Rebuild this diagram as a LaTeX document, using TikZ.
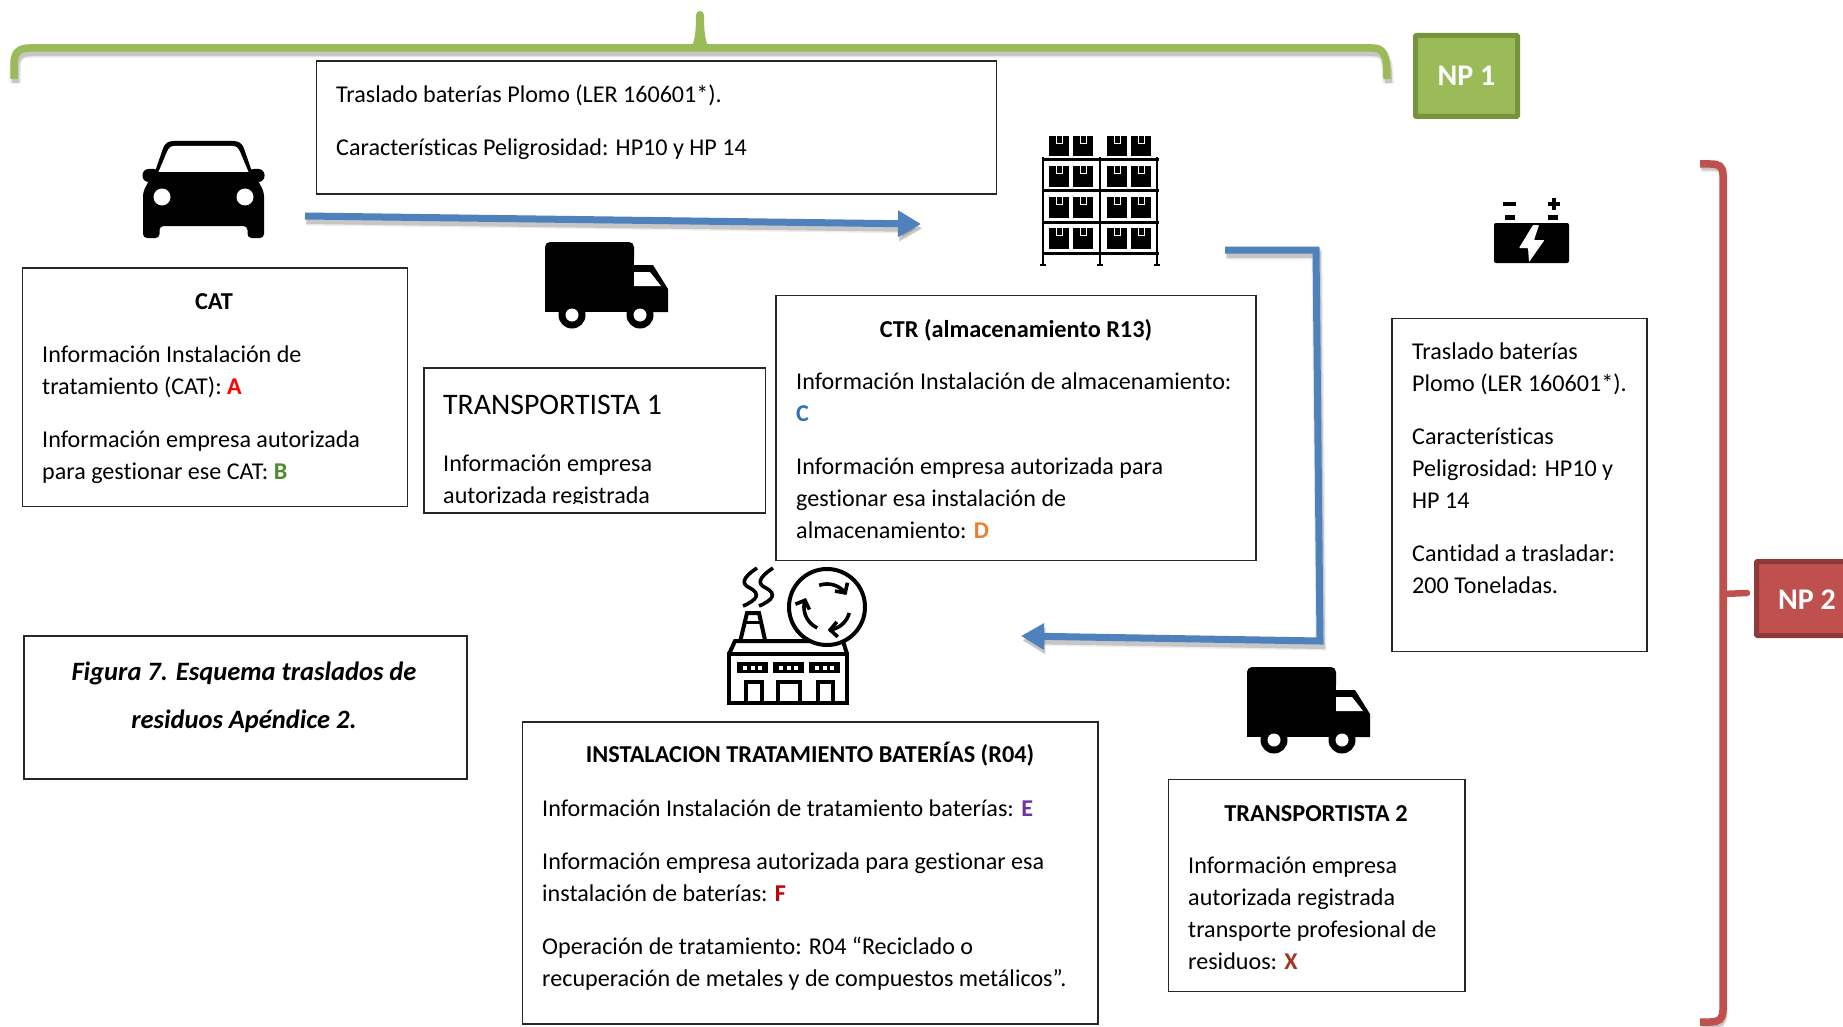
\documentclass[tikz,border=0pt]{standalone}
\usepackage{fontspec}
\setmainfont[Ligatures=NoCommon]{Carlito}
\usetikzlibrary{arrows.meta}
\definecolor{npgreen}{HTML}{9BBB59}
\definecolor{npgreend}{HTML}{77933C}
\definecolor{npred}{HTML}{C0504D}
\definecolor{npredd}{HTML}{8F3A38}
\definecolor{flowblue}{HTML}{4F81BD}
\definecolor{letB}{HTML}{4E8A2E}
\definecolor{letC}{HTML}{2E75B6}
\definecolor{letD}{HTML}{ED7D31}
\definecolor{letE}{HTML}{7030A0}
\definecolor{letF}{HTML}{C00000}
\definecolor{letX}{HTML}{A93226}
\newcommand{\ltr}[2]{\textcolor{#1}{\textbf{#2}}}
\tikzset{
  x=1pt,y=-1pt,
  boxn/.style={draw=black!85,line width=1.2pt,fill=white,rectangle,inner sep=0pt,outer sep=0pt,anchor=north west},
  txt/.style={inner sep=0pt,anchor=north west,align=left,font=\fontsize{24.1}{32}\selectfont,execute at begin node=\strut},
  ttl/.style={inner sep=0pt,anchor=center,font=\fontsize{24.3}{32}\selectfont\bfseries},
  softsh/.style={
    preaction={draw=black,opacity=.07,line width=#1+4pt,transform canvas={shift={(1pt,-4pt)}}},
    preaction={draw=black,opacity=.16,line width=#1,transform canvas={shift={(1.5pt,-4.5pt)}}}},
  bracegreen/.style={draw=npgreen,line width=7.5pt,softsh=7.5pt},
  bracered/.style={draw=npred,line width=7.5pt,softsh=4pt},
  flow/.style={draw=flowblue,line width=7pt,softsh=7pt},
  nptag/.style={rectangle,line width=5pt,rounded corners=1pt,inner sep=0pt,outer sep=0pt,anchor=north west,text=white,font=\fontsize{30}{32}\selectfont\bfseries},
  truckicon/.pic={
    \fill[rounded corners=5pt] (0,70) -- (0,0) -- (89,0) -- (89,23) -- (0,23) -- cycle;
    \fill (0,70) -- (0,8) -- (89,8) -- (89,70) -- cycle;
    \fill (85,23) -- (108,23) -- (123,47) -- (123,70) -- (85,70) -- cycle;
    \fill[white] (89,30) -- (105,30) -- (116,44) -- (89,44) -- cycle;
    \foreach \wx in {27,95}{
      \fill (\wx,73) circle[radius=13.5];
      \fill[white] (\wx,73) circle[radius=6.5];}
  }
}
\begin{document}
\begin{tikzpicture}
\useasboundingbox (0,0) rectangle (1843,1027);
\clip (0,0) rectangle (1843,1027);
\fill[white] (0,0) rectangle (1843,1027);

% --- brackets ---
\coordinate (gl) at (14,79);
\coordinate (gr) at (1387,79);
\draw[bracegreen] (gl) -- (14,65) .. controls (14,53) and (18,48) .. (30,48) -- (1372,48) .. controls (1383,48) and (1387,53) .. (gr);
\fill[npgreen] (692,45) .. controls (695,41) and (696,30) .. (696,15) arc[start angle=180,end angle=360,radius=4] .. controls (704,30) and (705,41) .. (708,45) -- cycle;

\coordinate (rt) at (1700,164);
\coordinate (rb) at (1700,1022);
\draw[bracered] (rt) -- (1710,164) .. controls (1719,164) and (1723,166) .. (1723,175) -- (1723,1010) .. controls (1723,1019) and (1719,1022) .. (1710,1022) -- (rb);
\draw[npred,line width=6.5pt,line cap=round] (1723,594) -- (1747,593);

% --- NP tags ---
\node[nptag,draw=npgreend,fill=npgreen,minimum width=102pt,minimum height=81pt] (np1) at (1415.5,35.5) {NP 1};
\node[nptag,draw=npredd,fill=npred,minimum width=110pt,minimum height=74pt] (np2) at (1756.5,561.5) {};
\node[inner sep=0pt,text=white,font=\fontsize{30}{32}\selectfont\bfseries] (np2t) at (1807,600) {NP 2};

% --- boxes ---
\node[boxn,minimum width=680pt,minimum height=133pt] (top) at (316.5,61) {};
\node[boxn,minimum width=385pt,minimum height=238.5pt] (cat) at (22.5,268) {};
\node[boxn,minimum width=341.5pt,minimum height=145pt] (tr1) at (424,368) {};
\node[boxn,minimum width=480pt,minimum height=265pt] (ctr) at (776,295.5) {};
\node[boxn,minimum width=255pt,minimum height=333pt] (bat) at (1392,318.5) {};
\node[boxn,minimum width=443pt,minimum height=143pt,line width=2pt] (fig) at (23.5,636) {};
\node[boxn,minimum width=575.5pt,minimum height=302pt] (ins) at (522.5,722) {};
\node[boxn,minimum width=296.5pt,minimum height=212pt] (tr2) at (1168.5,779.5) {};

% --- box texts ---
\node[txt] (toptxt) at (336,85) {Traslado baterías Plomo (LER 160601*).\\[21pt]Características Peligrosidad: HP10 y HP 14};

\node[ttl] (catt) at (214,301.5) {CAT};
\node[txt] (cattxt) at (42,346) {Información Instalación de\\tratamiento (CAT): \ltr{red}{A}\\[21pt]Información empresa autorizada\\para gestionar ese CAT: \ltr{letB}{B}};

\node[inner sep=0pt,anchor=west,font=\fontsize{29.8}{36}\selectfont] (tr1t) at (443,405) {TRANSPORTISTA 1};
\begin{scope}
\clip (425,440) rectangle (764,503);
\node[txt] (tr1txt) at (443,455) {Información empresa\\autorizada registrada};
\end{scope}

\node[ttl] (ctrt) at (1016,330) {CTR (almacenamiento R13)};
\node[txt] (ctrtxt) at (796,373) {Información Instalación de almacenamiento:\\\ltr{letC}{C}\\[21pt]Información empresa autorizada para\\gestionar esa instalación de\\almacenamiento: \ltr{letD}{D}};

\node[txt] (battxt) at (1412,343) {Traslado baterías\\Plomo (LER 160601*).\\[21pt]Características\\Peligrosidad: HP10 y\\HP 14\\[21pt]Cantidad a trasladar:\\200 Toneladas.};

\node[inner sep=0pt,align=center,font=\fontsize{26.5}{48}\selectfont\bfseries\itshape] (figt) at (244,697) {Figura 7. Esquema traslados de\\residuos Apéndice 2.};

\node[ttl] (inst) at (810,754) {INSTALACION TRATAMIENTO BATERÍAS (R04)};
\node[txt] (instxt) at (542,800) {Información Instalación de tratamiento baterías: \ltr{letE}{E}\\[21pt]Información empresa autorizada para gestionar esa\\instalación de baterías: \ltr{letF}{F}\\[21pt]Operación de tratamiento: R04 “Reciclado o\\recuperación de metales y de compuestos metálicos”.};

\node[ttl] (tr2t) at (1316,814) {TRANSPORTISTA 2};
\node[txt] (tr2txt) at (1188,857) {Información empresa\\autorizada registrada\\transporte profesional de\\residuos: \ltr{letX}{X}};

% --- flows ---
\coordinate (f1s) at (305,216);
\coordinate (f1e) at (921,224);
\draw[flow,-{Triangle[length=23pt,width=25pt]}] (f1s) -- (f1e);
\coordinate (f2s) at (1225,250);
\coordinate (f2a) at (1316,250);
\coordinate (f2b) at (1320,641);
\coordinate (f2e) at (1021,636);
\draw[flow,-{Triangle[length=23pt,width=25pt]},line join=miter] (f2s) -- (f2a) -- (f2b) -- (f2e);

% --- car ---
\begin{scope}[shift={(203.5,0)}]
\fill (-50,176) -- (-41,150) .. controls (-39,143) and (-35,141) .. (-30,141) -- (30,141) .. controls (35,141) and (39,143) .. (41,150) -- (50,176) -- cycle;
\fill[rounded corners=6pt] (-61,169) rectangle (-44,182);
\fill[rounded corners=6pt] (44,169) rectangle (61,182);
\fill[rounded corners=4pt] (-50,172) -- (50,172) -- (60.5,192) -- (60.5,238) -- (44,238) -- (44,226) -- (-44,226) -- (-44,238) -- (-60.5,238) -- (-60.5,192) -- cycle;
\fill[white] (-45,172) -- (-37,153) .. controls (-35,148) and (-33,146) .. (-29,146) -- (29,146) .. controls (33,146) and (35,148) .. (37,153) -- (45,172) -- cycle;
\fill[white] (-41.5,197) circle[radius=8.5];
\fill[white] (41.5,197) circle[radius=8.5];
\end{scope}

% --- trucks ---
\pic (truck1) at (545,242) {truckicon};
\pic (truck2) at (1247,667) {truckicon};

% --- shelf ---
\begin{scope}
\foreach \px in {1043,1100,1157} {
  \draw[line width=2.6pt] (\px,157) -- (\px,256);
  \draw[line width=1.2pt] (\px,256) -- (\px,265);
  \draw[line width=1.2pt] (\px-3,265) -- (\px+3,265);}
\foreach \sy in {160,191,222,253} \draw[line width=3pt] (1041.5,\sy) -- (1158.5,\sy);
\foreach \by in {136,166.5,197,228} \foreach \bx in {1049,1073,1107,1131} {
  \fill (\bx,\by) rectangle (\bx+20,\by+20.5);
  \draw[white,line width=.9pt] (\bx+7,\by) -- (\bx+7,\by+7) -- (\bx+13,\by+7) -- (\bx+13,\by);}
\end{scope}

% --- battery ---
\fill[rounded corners=2pt] (1494,223) rectangle (1569,263);
\fill (1504.5,215) rectangle (1515,219.5);
\fill (1548,215) rectangle (1558,219.5);
\fill (1503,201.5) rectangle (1515.5,205.5);
\fill (1547.5,202) rectangle (1559.5,206);
\fill (1551.5,198) rectangle (1555.5,210);
\fill[white,rounded corners=.8pt] (1533,225) -- (1519,248) -- (1528,248) -- (1529,262) -- (1544.5,240) -- (1534,240) -- (1539,225) -- cycle;

% --- factory ---
\begin{scope}[line width=4pt,line join=miter]
\draw (729,703) rectangle (847,654);
\draw (729,654) -- (735,641) -- (843,641) -- (847,654);
\draw (740.5,640) -- (747,613) -- (759,613) -- (765,640);
\draw[line width=3pt] (745,622.5) -- (761,622.5);
\draw[line width=3.6pt] (757,568) .. controls (742,578) and (741,584) .. (750,588) .. controls (761,594) and (757,600) .. (743,606);
\draw[line width=3.6pt] (773,568) .. controls (758,578) and (757,584) .. (766,588) .. controls (777,594) and (773,600) .. (759,606);
\foreach \wx in {737,773,809} {
  \fill (\wx,662) rectangle (\wx+31,673);
  \foreach \dx in {6,13.5,21} \fill[white] (\wx+\dx,665.5) rectangle (\wx+\dx+4,669.5);}
\draw (745.5,704) -- (745.5,681.5) -- (761.5,681.5) -- (761.5,704);
\draw (777.5,704) -- (777.5,681.5) -- (800,681.5) -- (800,704);
\draw (817.5,704) -- (817.5,681.5) -- (833,681.5) -- (833,704);
\filldraw[fill=white] (827,607) circle[radius=38];
\foreach \a/\b in {110/32,-15/-88,-115/-203}
  \draw[line width=3.6pt,-{Straight Barb[length=7pt,width=15pt]}] plot[domain=\a:\b,samples=24] ({827+23*cos(\x)},{607-23*sin(\x)});
\end{scope}
\end{tikzpicture}
\end{document}
